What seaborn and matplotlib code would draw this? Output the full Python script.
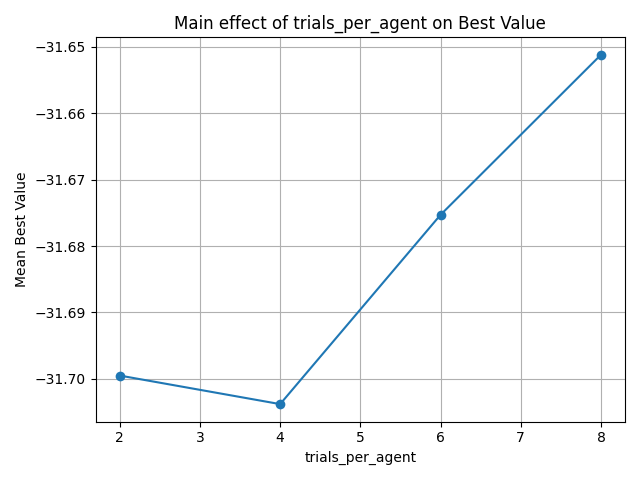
import matplotlib
matplotlib.use("Agg")
import matplotlib.pyplot as plt
import seaborn as sns
import pandas as pd

# main effect values
trials_per_agent = [2, 4, 6, 8]
mean_best_value = [-31.6995, -31.7038, -31.6753, -31.6512]

df = pd.DataFrame({"trials_per_agent": trials_per_agent,
                   "Mean Best Value": mean_best_value})

fig, ax = plt.subplots(figsize=(6.4, 4.8), dpi=100)
sns.lineplot(data=df, x="trials_per_agent", y="Mean Best Value",
             marker="o", markersize=7, markeredgewidth=0,
             color="#1f77b4", ax=ax)
ax.grid(True)
ax.set_xlabel("trials_per_agent")
ax.set_ylabel("Mean Best Value")
ax.set_title("Main effect of trials_per_agent on Best Value")
fig.tight_layout()
fig.savefig("out.png")
